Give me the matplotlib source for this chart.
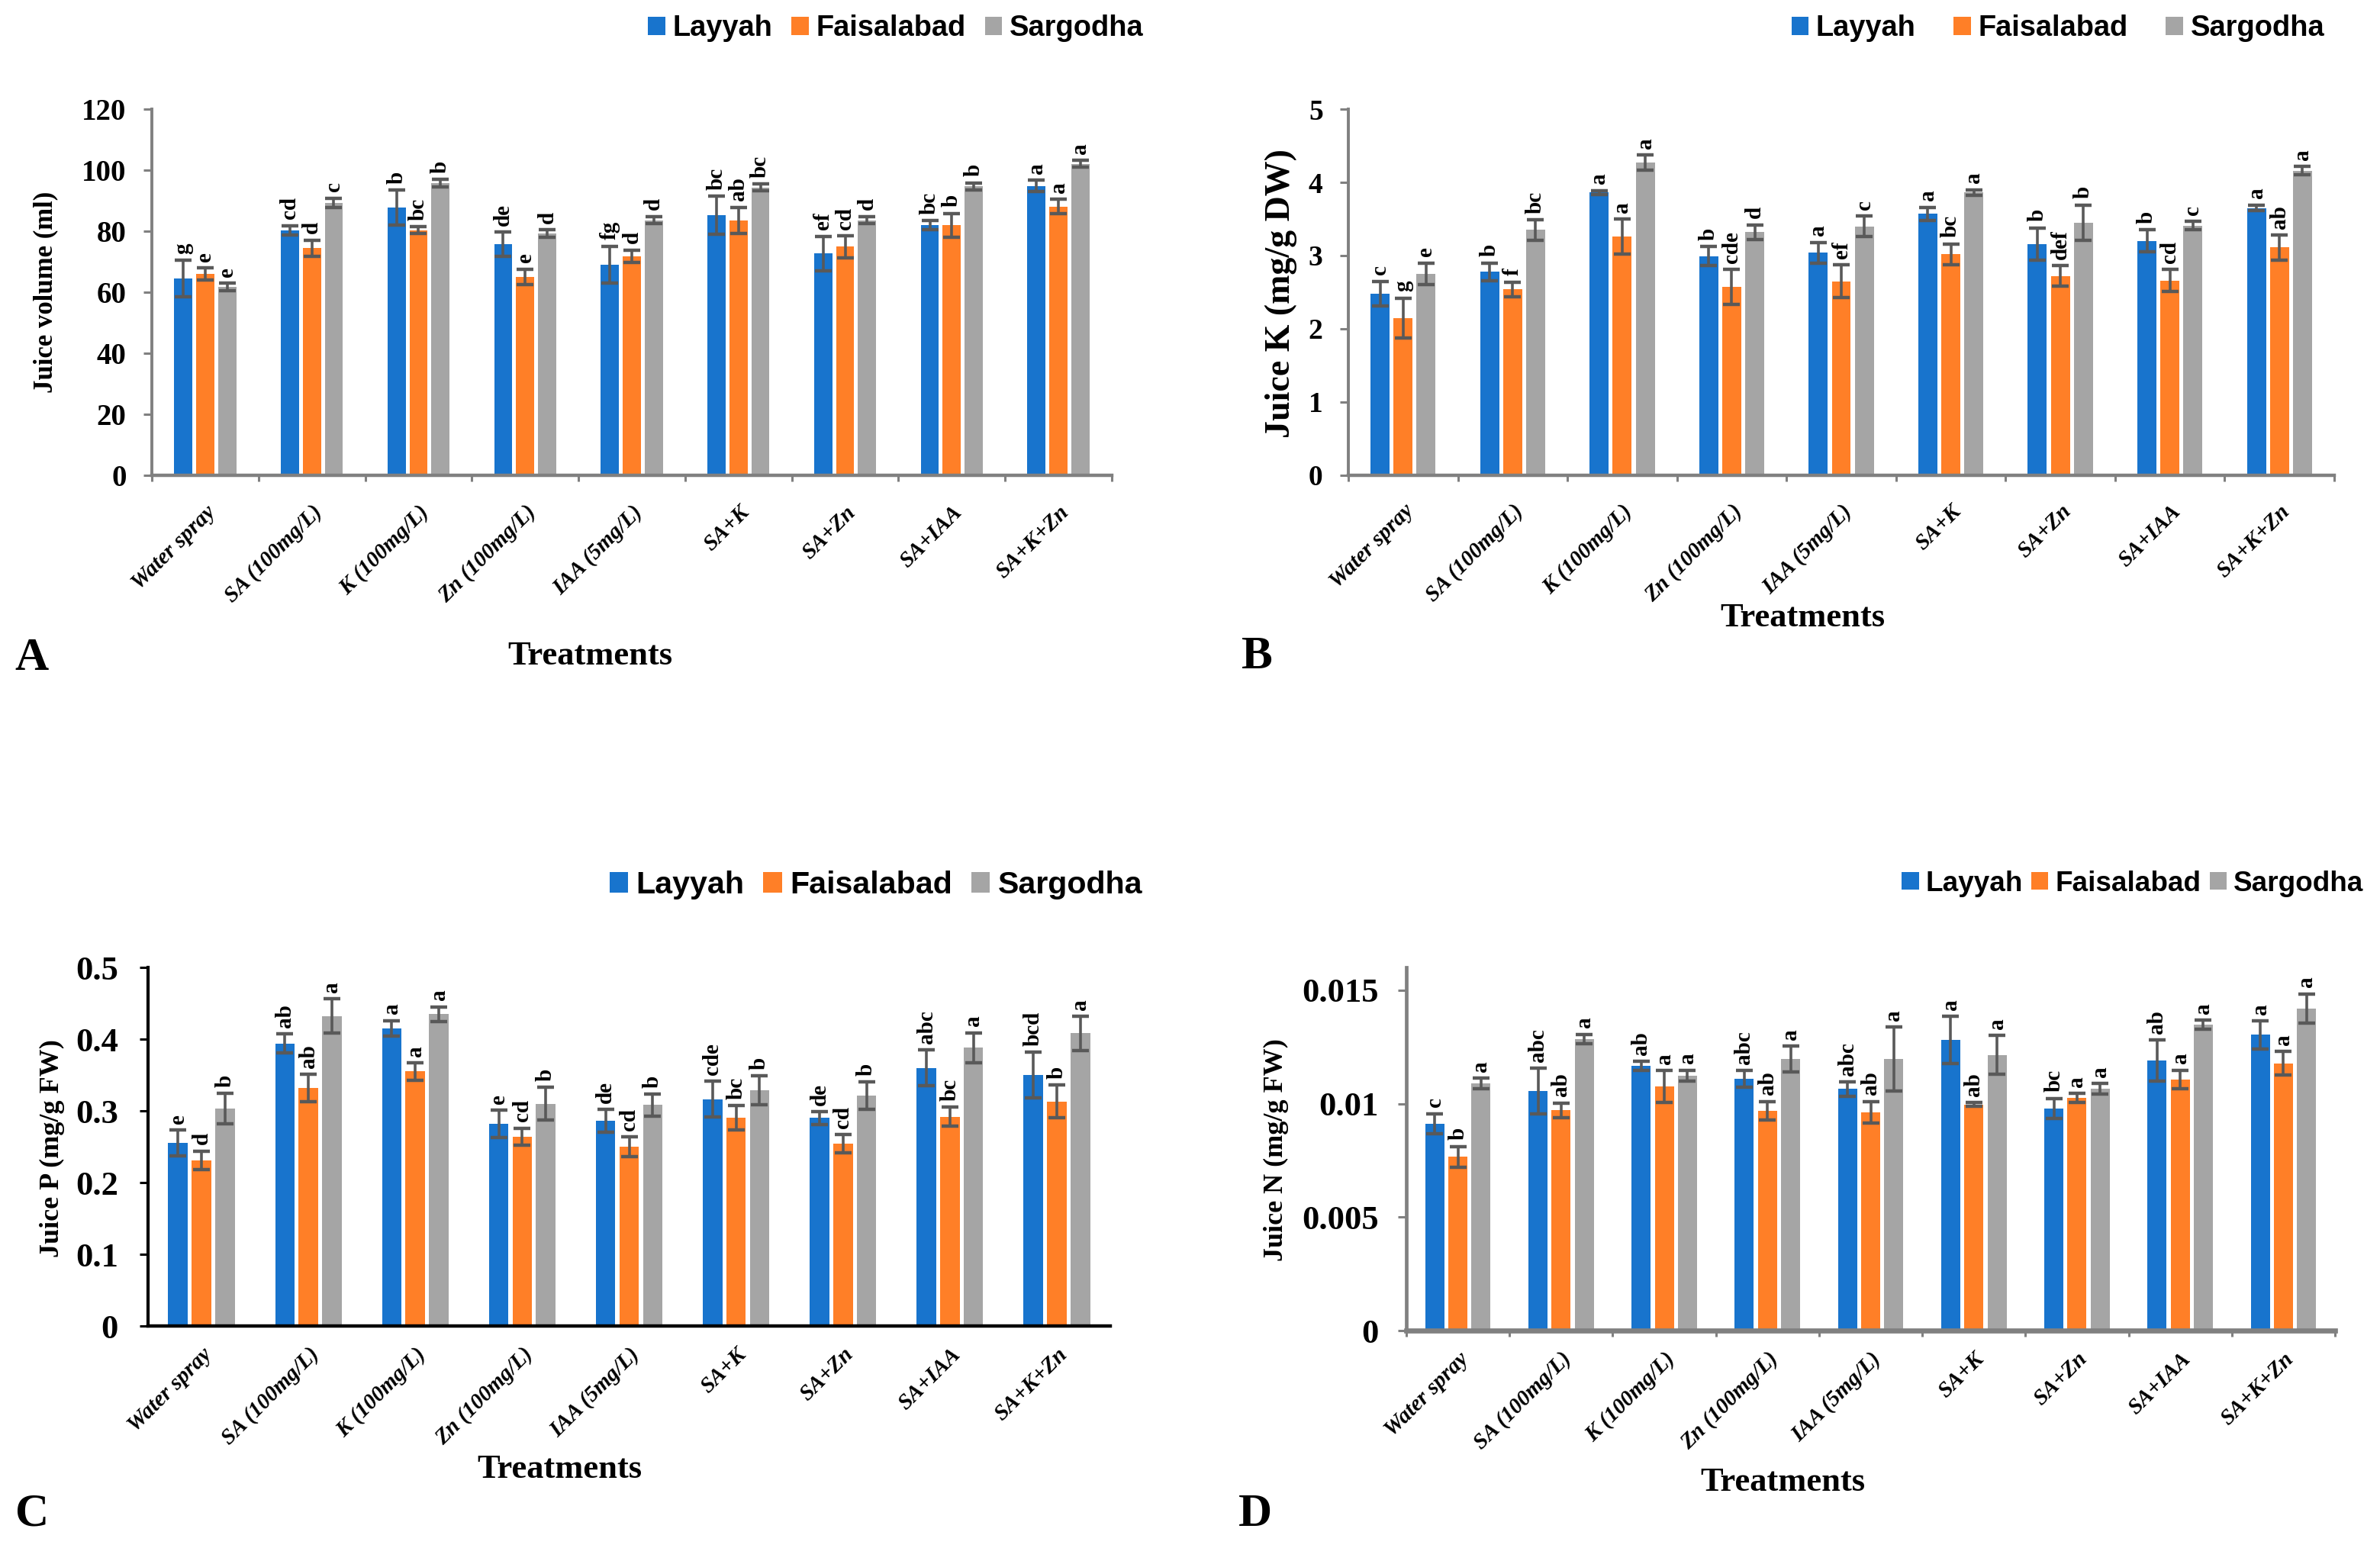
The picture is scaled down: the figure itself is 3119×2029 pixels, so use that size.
import matplotlib
matplotlib.use('Agg')
import matplotlib.pyplot as plt
from matplotlib.ticker import FuncFormatter
import numpy as np

plt.rcParams['font.family'] = ['Liberation Serif', 'DejaVu Serif']
plt.rcParams['font.weight'] = 'bold'

# Categories and series
treatments = ['Water spray', 'SA (100mg/L)', 'K (100mg/L)', 'Zn (100mg/L)', 'IAA (5mg/L)',
              'SA+K', 'SA+Zn', 'SA+IAA', 'SA+K+Zn']
sites = ['Layyah', 'Faisalabad', 'Sargodha']
colors = ['#1874CD', '#FF7F27', '#A5A5A5']

# A - juice volume (ml)
vol_lay = [64.5, 80.3, 87.7, 75.7, 69.1, 85.2, 72.7, 81.9, 94.8]
vol_fai = [65.9, 74.4, 80.3, 65.1, 71.8, 83.5, 74.9, 81.9, 88.1]
vol_sar = [61.7, 89.3, 95.8, 79.2, 83.6, 94.3, 83.6, 94.7, 102.1]
vol_lay_err = [6.0, 1.5, 5.7, 4.0, 6.0, 6.3, 5.6, 1.5, 1.9]
vol_fai_err = [2.0, 2.7, 1.1, 2.5, 2.0, 4.3, 3.6, 3.9, 2.3]
vol_sar_err = [1.2, 1.5, 1.2, 1.2, 1.2, 1.1, 1.2, 1.1, 1.1]
vol_lay_let = ['g', 'cd', 'b', 'de', 'fg', 'bc', 'ef', 'bc', 'a']
vol_fai_let = ['e', 'd', 'bc', 'e', 'd', 'ab', 'cd', 'b', 'a']
vol_sar_let = ['e', 'c', 'b', 'd', 'd', 'bc', 'd', 'b', 'a']
vol_ticks = [0, 20, 40, 60, 80, 100, 120]

# B - juice K (mg/g DW)
k_lay = [2.48, 2.78, 3.86, 2.99, 3.04, 3.57, 3.16, 3.20, 3.65]
k_fai = [2.15, 2.54, 3.26, 2.57, 2.65, 3.02, 2.72, 2.66, 3.11]
k_sar = [2.75, 3.35, 4.27, 3.32, 3.40, 3.86, 3.45, 3.41, 4.16]
k_lay_err = [0.17, 0.12, 0.03, 0.13, 0.14, 0.09, 0.22, 0.15, 0.04]
k_fai_err = [0.27, 0.10, 0.24, 0.24, 0.22, 0.14, 0.14, 0.15, 0.17]
k_sar_err = [0.15, 0.14, 0.10, 0.10, 0.14, 0.04, 0.24, 0.06, 0.06]
k_lay_let = ['c', 'b', 'a', 'b', 'a', 'a', 'b', 'b', 'a']
k_fai_let = ['g', 'f', 'a', 'cde', 'ef', 'bc', 'def', 'cd', 'ab']
k_sar_let = ['e', 'bc', 'a', 'd', 'c', 'a', 'b', 'c', 'a']
k_ticks = [0, 1, 2, 3, 4, 5]

# C - juice P (mg/g FW)
p_lay = [0.255, 0.394, 0.415, 0.282, 0.286, 0.316, 0.290, 0.360, 0.350]
p_fai = [0.231, 0.332, 0.355, 0.264, 0.250, 0.290, 0.254, 0.292, 0.313]
p_sar = [0.303, 0.432, 0.435, 0.310, 0.308, 0.329, 0.321, 0.388, 0.408]
p_lay_err = [0.018, 0.013, 0.011, 0.019, 0.016, 0.025, 0.009, 0.025, 0.032]
p_fai_err = [0.013, 0.019, 0.012, 0.012, 0.014, 0.017, 0.013, 0.013, 0.023]
p_sar_err = [0.021, 0.024, 0.010, 0.023, 0.015, 0.020, 0.019, 0.021, 0.024]
p_lay_let = ['e', 'ab', 'a', 'e', 'de', 'cde', 'de', 'abc', 'bcd']
p_fai_let = ['d', 'ab', 'a', 'cd', 'cd', 'bc', 'cd', 'bc', 'b']
p_sar_let = ['b', 'a', 'a', 'b', 'b', 'b', 'b', 'a', 'a']
p_ticks = [0, 0.1, 0.2, 0.3, 0.4, 0.5]

# D - juice N (mg/g FW)
n_lay = [0.00911, 0.01055, 0.01167, 0.01108, 0.01064, 0.01280, 0.00979, 0.01190, 0.01303]
n_fai = [0.00766, 0.00970, 0.01076, 0.00969, 0.00962, 0.00996, 0.01025, 0.01106, 0.01178]
n_sar = [0.01088, 0.01285, 0.01123, 0.01197, 0.01197, 0.01214, 0.01065, 0.01348, 0.01419]
n_lay_err = [0.00045, 0.00100, 0.00020, 0.00037, 0.00031, 0.00105, 0.00044, 0.00090, 0.00062]
n_fai_err = [0.00045, 0.00033, 0.00070, 0.00041, 0.00048, 0.00008, 0.00019, 0.00041, 0.00052]
n_sar_err = [0.00024, 0.00020, 0.00024, 0.00057, 0.00140, 0.00086, 0.00024, 0.00020, 0.00065]
n_lay_let = ['c', 'abc', 'ab', 'abc', 'abc', 'a', 'bc', 'ab', 'a']
n_fai_let = ['b', 'ab', 'a', 'ab', 'ab', 'ab', 'a', 'a', 'a']
n_sar_let = ['a', 'a', 'a', 'a', 'a', 'a', 'a', 'a', 'a']
n_ticks = [0, 0.005, 0.01, 0.015]

W, H = 3119, 2029
fig = plt.figure(figsize=(W / 200, H / 200), dpi=200)


def px_rect(left, top, right, bottom):
    """ pixel box -> figure fraction rect """
    return [left / W, 1 - bottom / H, (right - left) / W, (bottom - top) / H]


def draw_panel(rect, series, errs, lets, ticks, ylim, ylabel, p):
    ax = fig.add_axes(rect)
    x = np.arange(len(treatments))
    bars = []
    for i in range(3):
        xi = x + (i - 1) * p['step']
        b = ax.bar(xi, series[i], width=p['width'], color=colors[i], label=sites[i], zorder=2)
        bars.append(b)
        ax.errorbar(xi, series[i], yerr=errs[i], fmt='none', ecolor='#595959',
                    elinewidth=1.3, capsize=4, capthick=1.6, zorder=3)
        for xx, v, e, t in zip(xi, series[i], errs[i], lets[i]):
            ax.annotate(t, (xx, v + e), xytext=(0, 3), textcoords='offset points',
                        rotation=90, ha='center', va='bottom', fontsize=10.5,
                        fontweight='bold')
    # axes look
    ax.set_xlim(-0.5, len(treatments) - 0.5)
    ax.set_ylim(*ylim)
    ax.set_yticks(ticks)
    ax.yaxis.set_major_formatter(FuncFormatter(lambda v, pos: '%g' % v))
    for s in ['top', 'right']:
        ax.spines[s].set_visible(False)
    ax.spines['left'].set_color(p['axc'])
    ax.spines['bottom'].set_color(p['axc'])
    ax.spines['left'].set_linewidth(p['ylw'])
    ax.spines['bottom'].set_linewidth(p['xlw'])
    ax.tick_params(axis='y', direction='out', length=4, width=1.1, color=p['axc'],
                   pad=p['ypad'], labelsize=p['yts'])
    ax.set_xticks(x)
    ax.set_xticklabels(treatments, rotation=45, ha='right', va='top',
                       rotation_mode='anchor', fontstyle='italic', fontsize=10.5)
    ax.tick_params(axis='x', which='major', length=0, pad=p['xpad'])
    if p['xticks']:
        ax.set_xticks(np.arange(-0.5, len(treatments)), minor=True)
        ax.tick_params(axis='x', which='minor', direction='out', length=3,
                       width=1.1, color=p['axc'])
    for lab in ax.get_yticklabels():
        lab.set_fontweight('bold')
    # y label, legend, axis title, panel letter
    fig.text(p['ylab'][0] / W, 1 - p['ylab'][1] / H, ylabel, rotation=90,
             ha='center', va='center', fontsize=p['ylfs'], fontweight='bold')
    fig.legend(bars, sites, loc='center', ncol=3, frameon=False,
               bbox_to_anchor=(p['leg'][0] / W, 1 - p['leg'][1] / H),
               handlelength=0.6, handleheight=0.6,
               handletextpad=0.25, columnspacing=p['colsp'],
               prop={'family': 'Liberation Sans', 'weight': 'bold', 'size': p['lfs']})
    fig.text(p['tr'][0] / W, 1 - p['tr'][1] / H, 'Treatments', ha='center', va='center',
             fontsize=16, fontweight='bold')
    fig.text(p['pl'][1] / W, 1 - p['pl'][2] / H, p['pl'][0], ha='center', va='center',
             fontsize=22, fontweight='bold')
    return ax


# Panel A
draw_panel(px_rect(199, 143, 1457, 623), [vol_lay, vol_fai, vol_sar],
           [vol_lay_err, vol_fai_err, vol_sar_err], [vol_lay_let, vol_fai_let, vol_sar_let],
           vol_ticks, (0, 120), 'Juice volume (ml)',
           dict(width=0.17, step=0.206, axc='#808080', ylw=1.4, xlw=1.6, ypad=8, yts=14,
                xpad=12.5, xticks=True, ylab=(60, 383), ylfs=12.5, leg=(1174, 37),
                lfs=13.7, colsp=0.65, tr=(773, 860), pl=('A', 42, 863)))

# Panel B
draw_panel(px_rect(1767, 143, 3059, 623), [k_lay, k_fai, k_sar],
           [k_lay_err, k_fai_err, k_sar_err], [k_lay_let, k_fai_let, k_sar_let],
           k_ticks, (0, 5), 'Juice K (mg/g DW)',
           dict(width=0.174, step=0.21, axc='#808080', ylw=1.4, xlw=1.6, ypad=8, yts=13.5,
                xpad=12, xticks=True, ylab=(1679, 385), ylfs=16.5, leg=(2697, 37),
                lfs=13.7, colsp=1.3, tr=(2362, 810), pl=('B', 1647, 861)))

# Panel C
draw_panel(px_rect(194, 1268, 1455, 1738), [p_lay, p_fai, p_sar],
           [p_lay_err, p_fai_err, p_sar_err], [p_lay_let, p_fai_let, p_sar_let],
           p_ticks, (0, 0.5), 'Juice P (mg/g FW)',
           dict(width=0.183, step=0.22, axc='black', ylw=1.5, xlw=1.6, ypad=10, yts=16,
                xpad=8.5, xticks=False, ylab=(68, 1505), ylfs=13, leg=(1148, 1160),
                lfs=14.8, colsp=0.6, tr=(733, 1926), pl=('C', 42, 1985)))

# Panel D
draw_panel(px_rect(1843, 1268, 3060, 1744), [n_lay, n_fai, n_sar],
           [n_lay_err, n_fai_err, n_sar_err], [n_lay_let, n_fai_let, n_sar_let],
           n_ticks, (0, 0.016), 'Juice N (mg/g FW)',
           dict(width=0.185, step=0.224, axc='#808080', ylw=1.7, xlw=2.4, ypad=9, yts=16,
                xpad=8.5, xticks=True, ylab=(1672, 1507), ylfs=13, leg=(2795, 1158),
                lfs=13.3, colsp=0.3, tr=(2336, 1943), pl=('D', 1645, 1985)))

plt.savefig('out.png', dpi=200)
